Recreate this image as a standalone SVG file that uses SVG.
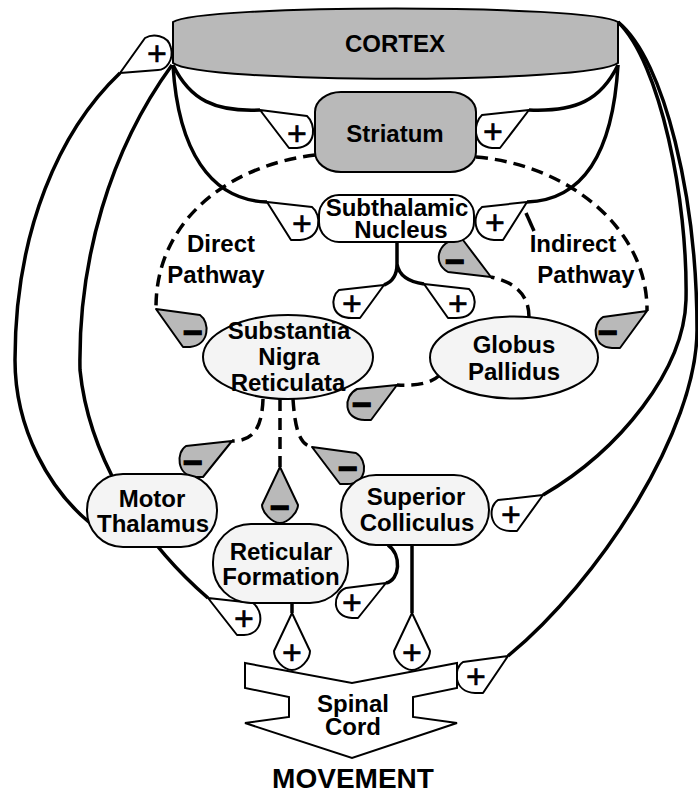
<svg xmlns="http://www.w3.org/2000/svg" width="698" height="794" viewBox="0 0 698 794">
<style>
.ln{fill:none;stroke:#000;stroke-width:3.5}
.ds{fill:none;stroke:#000;stroke-width:3.5;stroke-dasharray:12 7}
.bp{fill:#fff;stroke:#000;stroke-width:2;stroke-linejoin:round}
.bm{fill:#b9b9b9;stroke:#000;stroke-width:2;stroke-linejoin:round}
.pl{font-family:"Liberation Sans",Arial,sans-serif;font-size:34px;text-anchor:middle;dominant-baseline:central;stroke:#000;stroke-width:0.6}
.mi{font-family:"Liberation Sans",Arial,sans-serif;font-size:34px;font-weight:bold;text-anchor:middle;dominant-baseline:central;stroke:#000;stroke-width:1.2}
.nd{fill:#f4f4f4;stroke:#000;stroke-width:2}
.gr{fill:#b9b9b9;stroke:#000;stroke-width:2}
.wh{fill:#fff;stroke:#000;stroke-width:2}
.tx{font-family:"Liberation Sans",Arial,sans-serif;font-size:24px;font-weight:bold;text-anchor:middle;fill:#000}
.big{font-size:28px}
</style>
<rect width="698" height="794" fill="#fff"/>
<g id="connectors">
  <path class="ln" d="M120,73 C60,130 15,230 15,360 C15,430 50,490 90,523"/>
  <path class="ln" d="M172,65 C110,150 78,260 80,370 C88,450 135,535 208,598"/>
  <path class="ln" d="M173,65 C190,100 215,112 260,110"/>
  <path class="ln" d="M618,65 C601,100 576,112 529,110"/>
  <path class="ln" d="M173,65 C178,150 210,200 267,202"/>
  <path class="ln" d="M618,65 C613,150 585,200 527,202"/>
  <path class="ln" d="M618,22 C660,62 688,200 686,300 C684,370 620,450 543,495"/>
  <path class="ln" d="M618,22 C665,60 697,200 697,330 C697,430 600,580 508,656"/>
  <path class="ln" d="M397,242 L397,264 C397,276 392,282 384,285 M397,264 C399,276 410,282 424,284"/>
  <path class="ln" d="M388,545 C402,555 400,580 386,583"/>
  <path class="ln" d="M412,545 L412,613"/>
  <path class="ln" d="M292,603 L292,613"/>
  <path class="ln" d="M526,213 L534,231"/>
  <path class="ds" d="M315,155 C230,165 155,220 156,309"/>
  <path class="ds" d="M476,157 C570,165 648,230 647,311"/>
  <path class="ds" d="M529,317 C529,295 515,282 491,277"/>
  <path class="ds" d="M440,375 C430,384 415,386 397,385"/>
  <path class="ds" d="M263,399 C262,430 252,441 232,441"/>
  <path class="ds" d="M280,399 L280,467"/>
  <path class="ds" d="M293,399 C295,430 300,445 312,447"/>

  <path class="bp" d="M120,73 L145,38 C152,34 168,34 171,48 C174,60 166,70 158,70 Z"/>
  <text class="pl" x="157" y="53">+</text>
  <path class="bp" d="M260,110 L307,116 C316,124 317,146 297,148 L289,148 Z"/>
  <text class="pl" x="297" y="133">+</text>
  <path class="bp" d="M529,110 L482,115 C473,123 472,146 492,148 L500,148 Z"/>
  <text class="pl" x="493" y="131">+</text>
  <path class="bp" d="M267,202 L312,207 C322,215 322,238 300,240 L291,240 Z"/>
  <text class="pl" x="302" y="223">+</text>
  <path class="bp" d="M527,202 L482,207 C472,215 472,238 494,240 L503,240 Z"/>
  <text class="pl" x="495" y="222">+</text>
  <path class="bp" d="M384,285 L339,290 C330,297 330,318 352,318 L360,318 Z"/>
  <text class="pl" x="352" y="303">+</text>
  <path class="bp" d="M424,284 L469,289 C478,297 478,318 456,318 L448,318 Z"/>
  <text class="pl" x="458" y="303">+</text>
  <path class="bm" d="M491,277 L463,240 C440,236 430,262 448,272 Z"/>
  <text class="mi" x="455" y="261">−</text>
  <path class="bm" d="M156,309 L200,315 C210,322 210,345 190,347 L183,347 Z"/>
  <text class="mi" x="193" y="332">−</text>
  <path class="bm" d="M647,311 L603,317 C592,324 592,347 612,348 L620,348 Z"/>
  <text class="mi" x="608" y="332">−</text>
  <path class="bm" d="M397,385 L357,389 C343,396 343,420 365,420 L371,420 Z"/>
  <text class="mi" x="362" y="404">−</text>
  <path class="bm" d="M232,441 L186,446 C176,452 176,476 196,477 L203,477 Z"/>
  <text class="mi" x="193" y="462">−</text>
  <path class="bm" d="M280,467 L262,505 C262,512 272,523 280,523 C288,523 298,512 298,505 Z"/>
  <text class="mi" x="280" y="507">−</text>
  <path class="bm" d="M312,447 L356,453 C368,460 368,484 347,484 L340,484 Z"/>
  <text class="mi" x="348" y="468">−</text>
  <path class="bp" d="M208,598 L253,603 C264,611 264,634 244,635 L237,635 Z"/>
  <text class="pl" x="244" y="618">+</text>
  <path class="bp" d="M386,583 L346,588 C332,593 331,617 352,618 L358,618 Z"/>
  <text class="pl" x="352" y="602">+</text>
  <path class="bp" d="M543,495 L498,500 C488,506 488,530 510,531 L517,531 Z"/>
  <text class="pl" x="511" y="514">+</text>
  <path class="bp" d="M508,656 L463,662 C453,668 453,692 475,693 L483,693 Z"/>
  <text class="pl" x="476" y="676">+</text>
  <path class="bp" d="M292,613 L274,651 C274,660 284,670 292,670 C300,670 310,660 310,651 Z"/>
  <text class="pl" x="292" y="652">+</text>
  <path class="bp" d="M412,613 L394,651 C394,660 404,670 412,670 C420,670 430,660 430,651 Z"/>
  <text class="pl" x="412" y="652">+</text>
  <text class="tx" x="221" y="252">Direct</text>
  <text class="tx" x="216" y="283">Pathway</text>
  <text class="tx" x="573" y="252">Indirect</text>
  <text class="tx" x="586" y="283">Pathway</text>
</g>
<g id="cortex">
  <path class="gr" d="M173,22 C200,4 590,4 618,22 L618,63 C590,84 200,84 173,63 Z"/>
  <text class="tx" x="395" y="52">CORTEX</text>
</g>
<g id="striatum">
  <rect class="gr" x="315" y="92" width="161" height="80" rx="26" ry="20"/>
  <text class="tx" x="395" y="142">Striatum</text>
</g>
<g id="stn">
  <rect class="wh" x="319" y="195" width="155" height="47" rx="20"/>
  <text class="tx" x="397" y="216">Subthalamic</text>
  <text class="tx" x="401" y="238">Nucleus</text>
</g>
<g id="snr">
  <ellipse class="nd" cx="288" cy="357" rx="85" ry="42"/>
  <text class="tx" x="289" y="339">Substantia</text>
  <text class="tx" x="289" y="365">Nigra</text>
  <text class="tx" x="288" y="391">Reticulata</text>
</g>
<g id="gp">
  <ellipse class="nd" cx="514" cy="357.5" rx="84" ry="41"/>
  <text class="tx" x="514" y="353">Globus</text>
  <text class="tx" x="514" y="380">Pallidus</text>
</g>
<g id="thalamus">
  <rect class="nd" x="87" y="474" width="130" height="73" rx="36"/>
  <text class="tx" x="152" y="507">Motor</text>
  <text class="tx" x="153" y="532">Thalamus</text>
</g>
<g id="reticular">
  <rect class="nd" x="213" y="524" width="135" height="79" rx="38"/>
  <text class="tx" x="281" y="560">Reticular</text>
  <text class="tx" x="281" y="585">Formation</text>
</g>
<g id="colliculus">
  <rect class="nd" x="341" y="475" width="148" height="70" rx="35"/>
  <text class="tx" x="416" y="505">Superior</text>
  <text class="tx" x="417" y="531">Colliculus</text>
</g>
<g id="spinal">
  <path class="wh" d="M245,663 L352,683 L457,663 L457,688 L413,697 L413,717 L457,723 L352,758 L245,723 L289,717 L289,697 L245,688 Z"/>
  <text class="tx" x="353" y="712">Spinal</text>
  <text class="tx" x="353" y="735">Cord</text>
</g>
<g id="movement">
  <text class="tx big" x="353" y="788">MOVEMENT</text>
</g>
</svg>
